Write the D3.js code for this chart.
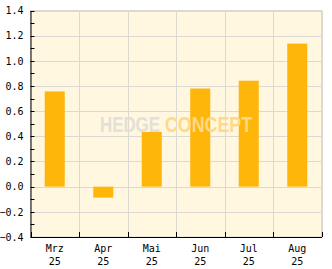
<!DOCTYPE html>
<html>
<head>
<meta charset="utf-8">
<script src="https://cdn.jsdelivr.net/npm/d3@7"></script>
<style>
  html, body { margin: 0; padding: 0; background: #fff; }
  svg { display: block; }
  text { font-family: "DejaVu Sans Mono", monospace; font-size: 10px; fill: #000; }
</style>
</head>
<body>
<svg id="chart" width="332" height="269"></svg>
<script>
// Data
var months = ['Mrz', 'Apr', 'Mai', 'Jun', 'Jul', 'Aug']
var years = ['25', '25', '25', '25', '25', '25']
var values = [0.757, -0.087, 0.435, 0.78, 0.842, 1.137]
var yTicks = [-0.4, -0.2, 0.0, 0.2, 0.4, 0.6, 0.8, 1.0, 1.2, 1.4]

var plotLeft = 30.5, plotTop = 10.5, plotRight = 321.5, plotBottom = 237

var svg = d3.select('#chart')

var x = d3.scaleBand()
  .domain(months)
  .range([plotLeft, plotRight])
  .paddingInner(0.587)
  .paddingOuter(0.587 / 2)

var y = d3.scaleLinear()
  .domain([-0.4, 1.4])
  .range([plotBottom, plotTop])

// Plot background
svg.append('rect')
  .attr('x', plotLeft).attr('y', plotTop)
  .attr('width', plotRight - plotLeft).attr('height', plotBottom - plotTop)
  .attr('fill', '#fff7e0')
  .attr('stroke', '#dcd9d2')
  .attr('stroke-width', 1)

// Grid lines
svg.append('g')
  .selectAll('line')
  .data(yTicks)
  .enter().append('line')
  .attr('x1', plotLeft).attr('x2', plotRight)
  .attr('y1', function (d) { return Math.round(y(d)) + 0.5 })
  .attr('y2', function (d) { return Math.round(y(d)) + 0.5 })
  .attr('stroke', '#dcd9d2')

var step = x.step()
var bounds = d3.range(months.length + 1).map(function (i) { return plotLeft + i * step })

svg.append('g')
  .selectAll('line')
  .data(bounds.slice(1))
  .enter().append('line')
  .attr('x1', function (d) { return Math.round(d) + 0.5 })
  .attr('x2', function (d) { return Math.round(d) + 0.5 })
  .attr('y1', plotTop).attr('y2', plotBottom)
  .attr('stroke', '#dcd9d2')

// Bars
svg.append('g')
  .selectAll('rect')
  .data(values)
  .enter().append('rect')
  .attr('x', function (d, i) { return x(months[i]) })
  .attr('width', x.bandwidth())
  .attr('y', function (d) { return y(Math.max(0, d)) })
  .attr('height', function (d) { return Math.abs(y(d) - y(0)) })
  .attr('fill', '#ffb60b')

// Watermark (drawn over the bars)
svg.append('text')
  .attr('x', 100).attr('y', 131.5)
  .attr('textLength', 60).attr('lengthAdjust', 'spacingAndGlyphs')
  .style('font-family', '"Liberation Sans", Arial, sans-serif')
  .style('font-weight', 'bold').style('font-size', '22px')
  .style('fill', '#e3e0d8')
  .text('HEDGE')
svg.append('text')
  .attr('x', 165).attr('y', 131.5)
  .attr('textLength', 87).attr('lengthAdjust', 'spacingAndGlyphs')
  .style('font-family', '"Liberation Sans", Arial, sans-serif')
  .style('font-weight', 'bold').style('font-size', '22px')
  .style('fill', '#ffd98a')
  .text('CONCEPT')

// Y axis
var yAxis = svg.append('g')
  .attr('transform', 'translate(' + plotLeft + ',0)')
  .call(d3.axisLeft(y).tickValues(yTicks).tickFormat(d3.format('.1f')).tickSize(0).tickPadding(7))
yAxis.select('.domain').attr('stroke', '#000')
yAxis.selectAll('text').style('font-family', '"DejaVu Sans Mono", monospace').style('font-size', '10px')

// Inward minor ticks on the y axis
svg.append('g')
  .selectAll('line')
  .data(d3.range(-0.4, 1.41, 0.1))
  .enter().append('line')
  .attr('x1', plotLeft).attr('x2', plotLeft + 4)
  .attr('y1', function (d) { return Math.round(y(d)) + 0.5 })
  .attr('y2', function (d) { return Math.round(y(d)) + 0.5 })
  .attr('stroke', '#000')

// X axis
var xAxis = svg.append('g')
  .attr('transform', 'translate(0,' + plotBottom + ')')
  .call(d3.axisBottom(x).tickSize(0).tickFormat(''))
xAxis.select('.domain').attr('stroke', '#000')

svg.append('g')
  .selectAll('line')
  .data(bounds)
  .enter().append('line')
  .attr('x1', function (d) { return Math.round(d) + 0.5 })
  .attr('x2', function (d) { return Math.round(d) + 0.5 })
  .attr('y1', plotBottom - 5).attr('y2', plotBottom)
  .attr('stroke', '#000')

var labels = svg.append('g')
  .selectAll('text')
  .data(months)
  .enter().append('text')
  .attr('text-anchor', 'middle')
  .attr('x', function (d) { return x(d) + x.bandwidth() / 2 })
labels.append('tspan')
  .attr('y', 251.5)
  .text(function (d) { return d })
labels.append('tspan')
  .attr('x', function (d) { return x(d) + x.bandwidth() / 2 })
  .attr('y', 264.5)
  .text(function (d, i) { return years[i] })
</script>
</body>
</html>
